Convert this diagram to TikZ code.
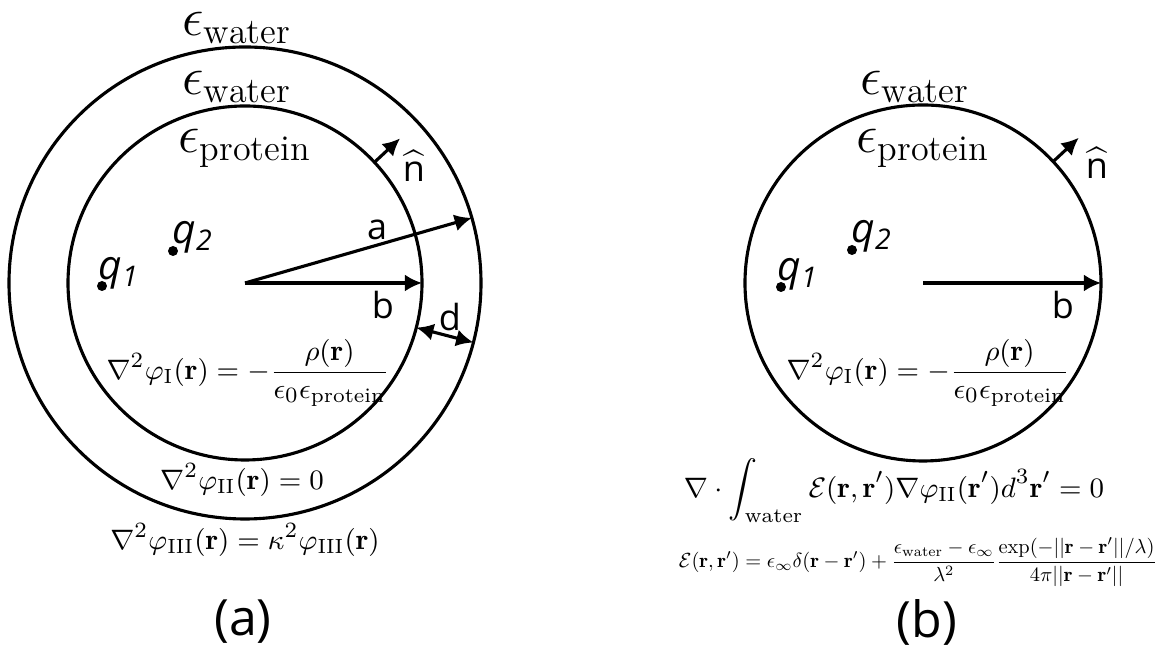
\documentclass[tikz,border=0pt]{standalone}
\usepackage{amsmath}
\usepackage{graphicx}
\usepackage{fontspec}
\newfontfamily\labelfont{Open Sans}
\usetikzlibrary{arrows.meta}
\begin{document}
\begin{tikzpicture}[x=0.32pt,y=0.32pt,
  ring/.style={draw,line width=1pt},
  vec/.style={-{Latex[length=5.5pt,width=5.5pt]},line width=1pt},
  dvec/.style={{Latex[length=5.5pt,width=5.5pt]}-{Latex[length=5.5pt,width=5.5pt]},line width=1pt},
  charge/.style={circle,fill,inner sep=0pt,minimum size=3.2pt},
  sflab/.style={inner sep=1pt,font=\labelfont\fontsize{11.5}{13}\selectfont},
  qlab/.style={inner sep=1pt,font=\labelfont\itshape\fontsize{13}{15}\selectfont},
  eps/.style={inner sep=1pt,font=\fontsize{16.5}{19}\selectfont},
  eq/.style={inner sep=1pt,font=\fontsize{9.4}{11}\selectfont},
  tag/.style={inner sep=1pt,font=\labelfont\fontsize{16}{19}\selectfont}]
\useasboundingbox (0,0) rectangle (1165,647);
\coordinate (cl) at (245,364);
\coordinate (cr) at (923,364);
\draw[ring] (cl) circle[radius=236];
\draw[ring] (cl) circle[radius=177];
\draw[ring] (cr) circle[radius=178];
\coordinate (aend) at ([shift={(16:236)}]cl);
\coordinate (bend) at ([shift={(0:177)}]cl);
\coordinate (nbot) at ([shift={(43:177)}]cl);
\coordinate (ntop) at ([shift={(43:212)}]cl);
\coordinate (din) at ([shift={(-14.6:177)}]cl);
\coordinate (dout) at ([shift={(-14.6:236)}]cl);
\coordinate (bendr) at ([shift={(0:178)}]cr);
\coordinate (nbotr) at ([shift={(43:178)}]cr);
\coordinate (ntopr) at ([shift={(43:213)}]cr);
\node[eps] (wout) at (237,619) {$\epsilon_{\mathrm{water}}$};
\node[eps] (win) at (237,560) {$\epsilon_{\mathrm{water}}$};
\node[eps] (prot) at (245,499) {$\epsilon_{\mathrm{protein}}$};
\node[charge] (q1) at (102,361) {};
\node[charge] (q2) at (173,396) {};
\node[qlab] (q1lab) at ([shift={(17,13)}]q1) {q\textsubscript{1}};
\node[qlab] (q2lab) at ([shift={(20,14)}]q2) {q\textsubscript{2}};
\draw[vec] (cl) -- (aend);
\draw[vec] (cl) -- (bend);
\draw[vec] (nbot) -- (ntop);
\draw[dvec] (din) -- (dout);
\node[sflab] (alab) at (377,417) {a};
\node[sflab] (blab) at (383,342) {b};
\node[sflab] (dlab) at (450,330) {d};
\node[sflab] (nlab) at (414,481) {$\widehat{\text{\labelfont n}}$};
\node[eq] (eqI) at (248,274) {$\nabla^2\varphi_{\mathrm{I}}(\mathbf{r})=-\dfrac{\rho(\mathbf{r})}{\epsilon_0\epsilon_{\mathrm{protein}}}$};
\node[eq] (eqII) at (242,167) {$\nabla^2\varphi_{\mathrm{II}}(\mathbf{r})=0$};
\node[eq] (eqIII) at (245,107) {$\nabla^2\varphi_{\mathrm{III}}(\mathbf{r})=\kappa^2\varphi_{\mathrm{III}}(\mathbf{r})$};
\node[tag] (taga) at (243,25) {(a)};
\node[eps] (wr) at (915,560) {$\epsilon_{\mathrm{water}}$};
\node[eps] (protr) at (923,499) {$\epsilon_{\mathrm{protein}}$};
\node[charge] (q1r) at (781,360) {};
\node[charge] (q2r) at (852,397) {};
\node[qlab] (q1rlab) at ([shift={(17,13)}]q1r) {q\textsubscript{1}};
\node[qlab] (q2rlab) at ([shift={(20,14)}]q2r) {q\textsubscript{2}};
\draw[vec] (cr) -- (bendr);
\draw[vec] (nbotr) -- (ntopr);
\node[sflab] (blabr) at (1063,342) {b};
\node[sflab] (nlabr) at (1097,484) {$\widehat{\text{\labelfont n}}$};
\node[eq] (eqIr) at (928,274) {$\nabla^2\varphi_{\mathrm{I}}(\mathbf{r})=-\dfrac{\rho(\mathbf{r})}{\epsilon_0\epsilon_{\mathrm{protein}}}$};
\node[eq] (eqint) at (894,156) {$\displaystyle\nabla\cdot\int_{\mathrm{water}}\mathcal{E}(\mathbf{r},\mathbf{r}')\nabla\varphi_{\mathrm{II}}(\mathbf{r}')d^3\mathbf{r}'=0$};
\node[inner sep=1pt] (eqkern) at (918,85) {\resizebox{153pt}{!}{$\mathcal{E}(\mathbf{r},\mathbf{r}')=\epsilon_\infty\delta(\mathbf{r}-\mathbf{r}')+\dfrac{\epsilon_{\mathrm{water}}-\epsilon_\infty}{\lambda^2}\dfrac{\exp(-||\mathbf{r}-\mathbf{r}'||/\lambda)}{4\pi||\mathbf{r}-\mathbf{r}'||}$}};
\node[tag] (tagb) at (927,25) {(b)};
\end{tikzpicture}
\end{document}
